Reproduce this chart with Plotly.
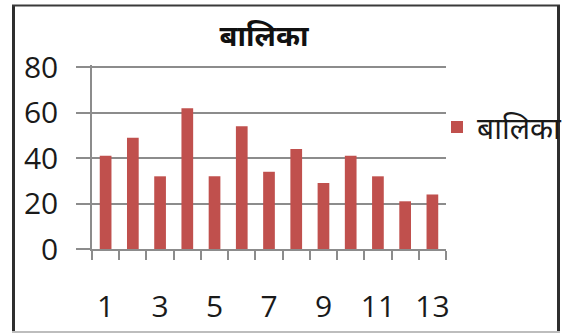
import plotly.graph_objects as go

# Girls count per class
classes = list(range(1, 14))
balika = [41, 49, 32, 62, 32, 54, 34, 44, 29, 41, 32, 21, 24]
series_name = "बालिका"
x_tick_vals = [1, 3, 5, 7, 9, 11, 13]
y_tick_vals = [0, 20, 40, 60, 80]

W, H = 563, 333
L, R, T, B = 92, 117, 65, 84
pw, ph = W - L - R, H - T - B


def px_x(p):
    return (p - L) / pw


def px_y(p):
    return (H - B - p) / ph


fig = go.Figure()
fig.add_trace(go.Bar(
    x=classes, y=balika, name=series_name,
    marker=dict(color="#c0504d", line=dict(width=0)),
    width=0.43,
))

grid = "#8c8c8c"
tick_font = dict(family="Open Sans, Liberation Sans, sans-serif", size=30, color="#1a1a1a")

fig.update_layout(
    width=W, height=H,
    margin=dict(l=L, r=R, t=T, b=B, autoexpand=False),
    paper_bgcolor="white", plot_bgcolor="white",
    showlegend=True,
    legend=dict(x=px_x(437), xanchor="left", y=px_y(127), yanchor="middle",
                font=dict(family="Noto Sans, sans-serif", size=30, color="#1a1a1a"),
                bgcolor="rgba(0,0,0,0)"),
    title=dict(text="<b>" + series_name + "</b>", x=px_x(258), xanchor="center",
               y=1 - 36 / H, yanchor="middle",
               font=dict(family="Noto Sans, sans-serif", size=29, color="#111111")),
    xaxis=dict(range=[0.5, 13.5], tickvals=x_tick_vals, ticks="",
               showgrid=False, zeroline=False, automargin=False,
               showline=True, linecolor=grid, linewidth=1.5,
               ticklabelstandoff=30, tickfont=tick_font,
               minor=dict(tickvals=[i + 0.5 for i in range(0, 14)], ticks="outside",
                          ticklen=9, tickcolor=grid, tickwidth=1.5, showgrid=False)),
    yaxis=dict(range=[0, 81], tickvals=y_tick_vals, ticks="outside", ticklen=14,
               tickcolor=grid, tickwidth=1.5, automargin=False,
               showgrid=True, gridcolor=grid, gridwidth=1.5, zeroline=False,
               showline=True, linecolor=grid, linewidth=1.5,
               ticklabelstandoff=12, tickfont=tick_font),
    bargap=0.5,
)

# Chart frame
frame = [
    (13.5, 5.5, 13.5, 333, "#2e2e2e", 3),
    (12, 5.5, 560, 5.5, "#3a3a3a", 2),
    (558.5, 5.5, 558.5, 333, "#2e2e2e", 3),
    (12, 332, 560, 332, "#bdbdbd", 2),
]
for x0, y0, x1, y1, c, w in frame:
    fig.add_shape(type="line", xref="paper", yref="paper",
                  x0=px_x(x0), y0=px_y(y0), x1=px_x(x1), y1=px_y(y1),
                  line=dict(color=c, width=w), layer="above")

fig.write_html("out.html")
